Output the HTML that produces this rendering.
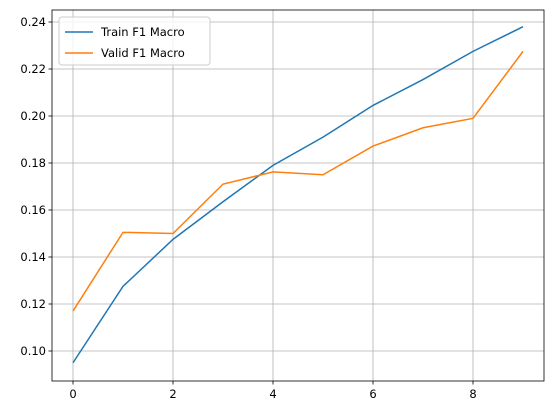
<!DOCTYPE html>
<html><head><meta charset="utf-8"><style>
body{margin:0;background:#fff;width:556px;height:413px;overflow:hidden}
text{font-family:"DejaVu Sans","Liberation Sans",sans-serif;font-size:11.5px;fill:#000}
</style></head><body>
<svg id="chart" width="556" height="413"></svg>
<script>
const epochs=[0,1,2,3,4,5,6,7,8,9];
const trainF1=[0.095,0.1275,0.1475,0.1635,0.179,0.191,0.2045,0.2155,0.2275,0.238];
const validF1=[0.117,0.1505,0.150,0.171,0.1762,0.175,0.1872,0.195,0.199,0.2275];
const xTicks=[0,2,4,6,8];
const yTicks=[0.10,0.12,0.14,0.16,0.18,0.20,0.22,0.24];
const L=52,R=544,T=10,B=381;
const xs=v=>73+v*50;
const ys=v=>351-(v-0.10)*2350;
const svg=document.getElementById('chart');
const NS='http://www.w3.org/2000/svg';
function mk(t,a){const e=document.createElementNS(NS,t);for(const k in a)e.setAttribute(k,a[k]);svg.appendChild(e);return e;}
xTicks.forEach(t=>{
 const g=mk('line',{x1:xs(t),x2:xs(t),y1:T,y2:B,stroke:'#b0b0b0','stroke-width':0.8});
 
 
 mk('line',{x1:xs(t),x2:xs(t),y1:B,y2:B+3.5,stroke:'#000','stroke-width':0.8});
 const tx=mk('text',{x:xs(t),y:B+17,'text-anchor':'middle'});tx.textContent=t;
 
 
});
yTicks.forEach(t=>{
 const g=mk('line',{x1:L,x2:R,y1:ys(t),y2:ys(t),stroke:'#b0b0b0','stroke-width':0.8});
 
 
 mk('line',{x1:L-3.5,x2:L,y1:ys(t),y2:ys(t),stroke:'#000','stroke-width':0.8});
 const tx=mk('text',{x:L-6,y:ys(t)+4,'text-anchor':'end'});tx.textContent=t.toFixed(2);
 
 
});
function line(d,c,n){const p=mk('polyline',{points:d.map((v,i)=>xs(epochs[i])+','+ys(v)).join(' '),fill:'none',stroke:c,'stroke-width':1.5});
 
 }
line(trainF1,'#1f77b4','train-f1-line');
line(validF1,'#ff7f0e','valid-f1-line');
const fr=mk('rect',{x:L,y:T,width:R-L,height:B-T,fill:'none',stroke:'#000','stroke-width':0.8});


const lg=mk('rect',{x:59,y:17,width:151,height:48,rx:3,fill:'#fff','fill-opacity':0.8,stroke:'#ccc'});


[['Train F1 Macro','#1f77b4',32],['Valid F1 Macro','#ff7f0e',53]].forEach(([n,c,y])=>{
 mk('line',{x1:65,x2:93,y1:y,y2:y,stroke:c,'stroke-width':1.5});
 const t=mk('text',{x:101,y:y+4});t.textContent=n;
 
 
});
</script>
</body></html>
